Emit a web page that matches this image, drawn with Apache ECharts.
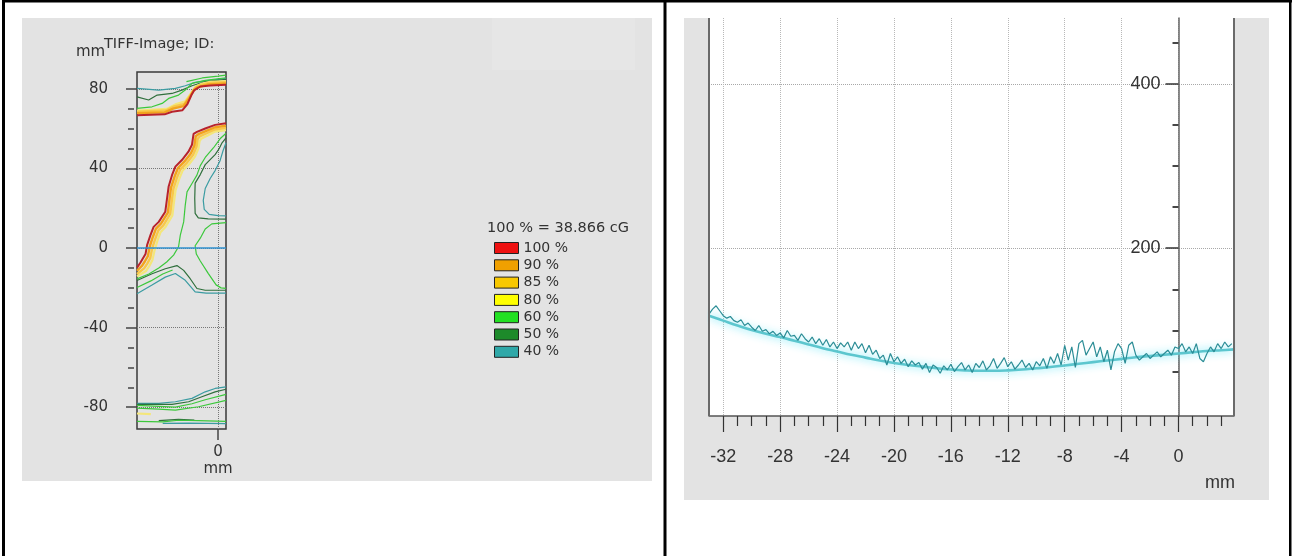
<!DOCTYPE html>
<html>
<head>
<meta charset="utf-8">
<script src="https://cdn.jsdelivr.net/npm/echarts@6/dist/echarts.min.js"></script>
<style>
  html, body { margin: 0; padding: 0; background: #ffffff; }
  #chart { width: 1305px; height: 556px; }
</style>
</head>
<body>
<div id="chart"></div>
<script>
// ---------- Isodose levels (left panel) ----------
const levelNames = ['100 %', '90 %', '85 %', '80 %', '60 %', '50 %', '40 %'];
const levelFill  = ['#ee1111', '#f0a000', '#f8c800', '#ffff00', '#22e022', '#1d8a2a', '#2fa8a8'];
const levelLine  = ['#b8232c', '#f2a31e', '#f8c84a', '#f4e67a', '#3cc83c', '#2f6f3c', '#3b9ca2'];
const levelWidth = [2.0, 2.4, 2.4, 2.2, 1.2, 1.2, 1.2];

// contour polylines, [x mm, y mm]
const iso100 = [
  [[-41,66.9],[-27,67.3],[-23.3,68.6],[-18,69.4],[-15.5,72.5],[-13.5,77],[-12,79.5],[-9,81.3],[-4,81.8],[4,82.2]],
  [[4,62.8],[-1.5,62],[-6.5,60.2],[-10.7,58.5],[-12.4,57.5],[-13.2,52],[-15,48.5],[-18.3,44.3],[-21.6,41],[-23.3,36.7],[-25,31],[-25.8,25],[-26.7,18.3],[-30,13.2],[-32.6,10.7],[-34.2,6.5],[-35.9,1.5],[-36.7,-3],[-38.2,-5.5],[-39.4,-7.5],[-41,-9.8]]
];
const iso90 = [
  [[-41,67.9],[-27,68.3],[-22.8,70.2],[-17.5,71.4],[-14.6,75.3],[-12.4,79.3],[-10.5,80.9],[-5,82.3],[4,82.8]],
  [[4,61.6],[-1.5,60.8],[-6,59],[-10,57.3],[-11.3,56.3],[-12,51.5],[-13.8,47.6],[-17,43.6],[-20.3,40.3],[-22,36],[-23.8,30.4],[-24.6,24.4],[-25.4,17.8],[-28.8,12.4],[-31.4,9.8],[-33,5.6],[-34.6,0.6],[-35.5,-4],[-37,-6.6],[-38.4,-8.8],[-41,-11.4]]
];
const iso85 = [
  [[-41,68.6],[-26.5,69.2],[-22.2,71.3],[-17,72.6],[-14,76.8],[-11.8,80.4],[-9.5,81.9],[-4.5,83.1],[4,83.5]],
  [[4,60.5],[-1.5,59.7],[-5.5,57.9],[-9.3,56.2],[-10.3,55],[-10.9,51],[-12.7,46.8],[-15.8,42.9],[-19.1,39.6],[-20.8,35.4],[-22.6,29.8],[-23.4,23.8],[-24.2,17.2],[-27.6,11.6],[-30.2,8.9],[-31.8,4.6],[-33.4,-0.4],[-34.3,-5],[-35.8,-7.8],[-37.4,-10.2],[-41,-13]]
];
const iso80 = [
  [[-41,69.2],[-26,70],[-21.6,72.3],[-16.6,73.9],[-13.6,78.1],[-11.3,81.2],[-8.5,82.6],[-4,83.6],[4,84]],
  [[4,59.4],[-1.5,58.6],[-5,56.8],[-8.6,55],[-9.4,53.6],[-9.9,50.2],[-11.7,46],[-14.7,42.2],[-18,38.9],[-19.7,34.7],[-21.5,29.1],[-22.3,23.1],[-23.1,16.5],[-26.5,10.8],[-29.1,8],[-30.7,3.6],[-32.2,-1.4],[-33.2,-6],[-34.7,-8.9],[-36.4,-11.5],[-41,-14.2]],
  [[-41,-83.2],[-34,-83.5]]
];
const iso60 = [
  [[-41,70.3],[-33.4,71.1],[-28.3,72.8],[-25,75.3],[-20,77],[-16.6,79.5],[-13.2,82.9],[-6.5,84.4],[4,85.7]],
  [[-16,83.8],[-8,85.6],[0,86.5],[4,87]],
  [[4,57.8],[1,55],[-2.3,50.5],[-6.5,45.6],[-9,41.5],[-10.7,36.7],[-13.2,32.5],[-15.7,28.3],[-16.6,21.6],[-17.4,13.2],[-19.1,6.5],[-20,0.7],[-22.5,-3.5],[-26,-7],[-30,-10],[-35,-13],[-41,-15.5]],
  [[4,12.8],[-3.2,12.2],[-6.5,9.6],[-9,5],[-11.6,1.2],[-11,-3],[-9,-6.5],[-5,-12.7],[-1,-18.5],[1.5,-20],[4,-20.3]],
  [[-41,-19.8],[-34,-16.5],[-28,-13],[-23,-11]],
  [[-41,-79.1],[-30,-79.6],[-21.6,-80],[-13.2,-78.3],[-6.5,-76.3],[4,-73.6]],
  [[-41,-80.5],[-30,-81],[-21.6,-81.5],[-9.9,-79.8],[4,-76.6]],
  [[-41,-87.2],[-28,-87.4],[-20,-86.6],[-10,-86.8],[4,-87.2]]
];
const iso50 = [
  [[-41,76.1],[-35.1,74.5],[-30.8,77],[-23.3,77.8],[-18.3,79.5],[-13.2,81.7],[-6.5,83.8],[4,84.9]],
  [[4,55.5],[2,53],[0.5,50],[-1.5,47],[-6.5,42],[-9,37],[-11.6,32.7],[-11.8,25],[-11.6,17.5],[-10,15.2],[-5,14.7],[4,14.6]],
  [[-41,-16.3],[-33.4,-12.9],[-26.7,-10.4],[-20.8,-8.8],[-17.4,-11.2],[-14.1,-15.4],[-10.7,-20.3],[-6.5,-21.2],[4,-21.2]],
  [[-41,-78.6],[-23.3,-78.6],[-14.9,-77.3],[-8.2,-74.8],[-1.5,-72.3],[4,-71]],
  [[-30,-86.8],[-20,-86.2],[-12,-86.5]]
];
const iso40 = [
  [[-41,80.4],[-30,79.5],[-21.6,80.4],[-16.6,81.7],[-11.6,83.4],[-3.2,84.5],[4,85.4]],
  [[4,53],[2.5,49],[1,44],[-1.5,39],[-4,35],[-6.5,30],[-7.5,24],[-7,19.5],[-4.5,17],[0,16.3],[4,16.2]],
  [[-41,-23],[-33.4,-18.6],[-26.7,-14.6],[-21.6,-12.8],[-16.6,-16.2],[-11.6,-22],[-6,-22.6],[4,-22.6]],
  [[-41,-78.1],[-30,-78.1],[-21.6,-77.3],[-13.2,-75.6],[-6.5,-72.3],[-1.5,-70.6],[4,-69.8]],
  [[-28,-88.2],[-15,-88],[4,-88.3]]
];

// left panel tick values (mm)
const isoYMajor = [-80, -40, 0, 40, 80];
const isoYMinor = [-70, -60, -50, -30, -20, -10, 10, 20, 30, 50, 60, 70];
const isoXMajor = [0];

// ---------- Dose profile (right panel) ----------
const profileStartMm = -33;
const profileStepMm = 0.25;
const profileDose = [
  120,126,130,124, 118,115,117,112, 110,113,106,109, 104,100,106,99,
  101,96,99,94, 97,91,100,93, 94,88,96,90, 86,92,84,90,
  82,89,80,86, 78,85,80,86, 76,86,78,84, 73,82,71,76,
  66,70,58,72, 62,68,60,65, 56,63,58,61, 53,60,49,58,
  55,48,57,52, 59,50,56,61, 52,58,49,60, 55,63,52,57,
  66,54,60,67, 56,62,53,58, 64,55,60,52, 62,57,66,54,
  68,60,72,58, 82,64,80,55, 84,88,70,78, 86,68,80,62,
  76,52,74,84, 78,60,82,86, 70,64,68,72, 66,70,74,68,
  72,76,70,80, 78,84,74,80, 72,84,66,62, 72,80,74,84,
  78,86,80,84
];
const fitMm   = [-33,-32,-31,-30,-29,-28,-27,-26,-25,-24,-23,-22,-21,-20,-19,-18,-17,-16,-15,-14,-13,-12,-11,-10,-9,-8,-7,-6,-5,-4,-3,-2,-1,0,1,2,3,3.9];
const fitDose = [118,112,106,100.5,96,92,87.5,83,78.5,74.5,70.5,67,63.5,60.5,58,56,54,52.5,51.5,51,51,51.5,52.5,54,55.5,57.5,59.5,61.5,63.5,65.5,67.5,69,70.5,72,73.5,75,76,77];

// right panel tick values
const profXMajor = [-32, -28, -24, -20, -16, -12, -8, -4, 0];
const profXMinor = [-31,-30,-29,-27,-26,-25,-23,-22,-21,-19,-18,-17,-15,-14,-13,-11,-10,-9,-7,-6,-5,-3,-2,-1,1,2,3];
const profYMajor = [200, 400];
const profYMinor = [50, 100, 150, 250, 300, 350, 450];

// ---------- styling ----------
const wideFont = 'DejaVu Sans, Verdana, sans-serif';
const narrowFont = "'Liberation Sans', Arial, sans-serif";
const panelGray = '#e3e3e3';
// the dose axis sits at x = 0 mm: distance from the profile grid's left edge
const profGridLeft = 709, profGridWidth = 525, profXMin = -33, profXMax = 3.9;
const doseAxisOffset = -profGridWidth * (0 - profXMin) / (profXMax - profXMin);

function isoSeries(levelIdx, lines) {
  return lines.map(pts => ({
    type: 'line',
    name: levelNames[levelIdx],
    xAxisIndex: 0, yAxisIndex: 0,
    data: pts,
    symbol: 'none', showSymbol: false,
    silent: true, animation: false,
    itemStyle: { color: levelFill[levelIdx] },
    lineStyle: { color: levelLine[levelIdx], width: levelWidth[levelIdx] }
  }));
}

const series = [].concat(
  isoSeries(6, iso40),
  isoSeries(5, iso50),
  isoSeries(4, iso60),
  isoSeries(3, iso80),
  isoSeries(2, iso85),
  isoSeries(1, iso90),
  isoSeries(0, iso100)
);

// blue reference line at y = 0 in the isodose view
series.push({
  type: 'line', xAxisIndex: 0, yAxisIndex: 0, data: [], silent: true, animation: false,
  markLine: {
    silent: true, symbol: 'none', animation: false,
    label: { show: false },
    lineStyle: { color: '#2f90cf', type: 'solid', width: 1.6 },
    data: [{ yAxis: 0 }]
  }
});

// fitted profile with glow
series.push({
  type: 'line', xAxisIndex: 1, yAxisIndex: 2,
  data: fitMm.map((x, i) => [x, fitDose[i]]),
  smooth: 0.4, symbol: 'none', silent: true, animation: false,
  lineStyle: { color: '#5cc6ce', width: 2.6, shadowColor: 'rgba(70,225,245,0.9)', shadowBlur: 9 },
  z: 3
});
// measured profile
series.push({
  type: 'line', xAxisIndex: 1, yAxisIndex: 2,
  data: profileDose.map((v, i) => [profileStartMm + i * profileStepMm, v]),
  symbol: 'none', silent: true, animation: false,
  lineStyle: { color: '#2b8d96', width: 1.2 },
  z: 4
});

const narrowLabel = { fontSize: 18, color: '#333', fontFamily: narrowFont };

const option = {
  backgroundColor: '#ffffff',
  animation: false,
  textStyle: { fontFamily: wideFont },
  graphic: [
    // panel backgrounds
    { type: 'rect', z: -10, shape: { x: 22, y: 18, width: 630, height: 463 }, style: { fill: panelGray } },
    { type: 'rect', z: -9, shape: { x: 492, y: 18, width: 143, height: 52 }, style: { fill: '#e6e6e6' } },
    { type: 'rect', z: -10, shape: { x: 684, y: 18, width: 585, height: 482 }, style: { fill: panelGray } },
    { type: 'rect', z: -9, shape: { x: 709, y: 18, width: 525, height: 398 }, style: { fill: '#ffffff' } },
    // profile frame sides
    { type: 'line', z: 50, shape: { x1: 709, y1: 18, x2: 709, y2: 416 }, style: { stroke: '#6a6a6a', lineWidth: 2 } },
    { type: 'line', z: 50, shape: { x1: 1234, y1: 18, x2: 1234, y2: 416 }, style: { stroke: '#6a6a6a', lineWidth: 2 } },
    // table borders
    { type: 'rect', z: 100, shape: { x: 2, y: 0, width: 1290, height: 2.5 }, style: { fill: '#000' } },
    { type: 'rect', z: 100, shape: { x: 2, y: 0, width: 3, height: 556 }, style: { fill: '#000' } },
    { type: 'rect', z: 100, shape: { x: 663.5, y: 0, width: 3, height: 556 }, style: { fill: '#000' } },
    { type: 'rect', z: 100, shape: { x: 1289, y: 0, width: 2.5, height: 556 }, style: { fill: '#000' } },
    // texts
    { type: 'text', z: 60, style: { x: 76, y: 52, text: 'mm', fill: '#333', font: '15px DejaVu Sans', verticalAlign: 'middle' } },
    { type: 'text', z: 60, style: { x: 104, y: 44, text: 'TIFF-Image; ID:', fill: '#333', font: '14.5px DejaVu Sans', verticalAlign: 'middle' } },
    { type: 'text', z: 60, style: { x: 218, y: 469, text: 'mm', fill: '#333', font: '15px DejaVu Sans', align: 'center', verticalAlign: 'middle' } },
    { type: 'text', z: 60, style: { x: 487, y: 228, text: '100 % = 38.866 cG', fill: '#333', font: '14.5px DejaVu Sans', verticalAlign: 'middle' } },
    { type: 'text', z: 60, style: { x: 1220, y: 483, text: 'mm', fill: '#333', font: "18px 'Liberation Sans', Arial, sans-serif", align: 'center', verticalAlign: 'middle' } }
  ],
  legend: {
    data: levelNames,
    orient: 'vertical',
    left: 489, top: 236,
    icon: 'rect',
    itemWidth: 24, itemHeight: 11, itemGap: 3.3,
    selectedMode: false,
    itemStyle: { borderColor: '#222', borderWidth: 1 },
    textStyle: { fontSize: 14, color: '#333', fontFamily: wideFont }
  },
  grid: [
    { left: 137, top: 72, width: 89, height: 357, show: true, borderColor: '#3a3a3a', borderWidth: 1.5, backgroundColor: 'transparent', containLabel: false },
    { left: profGridLeft, top: 18, width: profGridWidth, height: 398, show: false, containLabel: false }
  ],
  xAxis: [
    {
      gridIndex: 0, type: 'value', min: -41, max: 4, position: 'bottom',
      axisLine: { show: false, onZero: false },
      axisTick: { show: true, customValues: isoXMajor, length: 11, lineStyle: { color: '#444', width: 1.5 } },
      axisLabel: { show: true, customValues: isoXMajor, margin: 16, fontSize: 15, color: '#333', fontFamily: wideFont },
      splitLine: { show: true, lineStyle: { color: '#777', type: 'dotted', width: 1 } }
    },
    {
      gridIndex: 1, type: 'value', min: profXMin, max: profXMax, position: 'bottom',
      axisLine: { show: true, onZero: false, lineStyle: { color: '#555', width: 1.5 } },
      axisTick: { show: true, customValues: profXMajor, length: 16, lineStyle: { color: '#333', width: 1.2 } },
      axisLabel: Object.assign({ show: true, customValues: profXMajor, margin: 32 }, narrowLabel),
      splitLine: { show: true, lineStyle: { color: '#b8b8b8', type: 'dotted', width: 1 } }
    },
    {
      gridIndex: 1, type: 'value', min: profXMin, max: profXMax, position: 'bottom',
      axisLine: { show: false, onZero: false },
      axisTick: { show: true, customValues: profXMinor, length: 10, lineStyle: { color: '#333', width: 1.2 } },
      axisLabel: { show: false },
      splitLine: { show: false }
    }
  ],
  yAxis: [
    {
      gridIndex: 0, type: 'value', min: -91, max: 88.6, position: 'left',
      axisLine: { show: false, onZero: false },
      axisTick: { show: true, customValues: isoYMajor, length: 11, lineStyle: { color: '#444', width: 1.5 } },
      axisLabel: { show: true, customValues: isoYMajor, margin: 29, fontSize: 15, color: '#333', fontFamily: wideFont },
      splitLine: { show: true, lineStyle: { color: '#777', type: 'dotted', width: 1 } }
    },
    {
      gridIndex: 0, type: 'value', min: -91, max: 88.6, position: 'left', offset: 3,
      axisLine: { show: false, onZero: false },
      axisTick: { show: true, customValues: isoYMinor, length: 6, lineStyle: { color: '#444', width: 1.5 } },
      axisLabel: { show: false },
      splitLine: { show: false }
    },
    {
      gridIndex: 1, type: 'value', min: -4, max: 480, position: 'left', offset: doseAxisOffset,
      axisLine: { show: true, onZero: false, lineStyle: { color: '#666', width: 1.5 } },
      axisTick: { show: true, customValues: profYMajor, length: 13, lineStyle: { color: '#333', width: 1.5 } },
      axisLabel: Object.assign({ show: true, customValues: profYMajor, margin: 18 }, narrowLabel),
      splitLine: { show: true, lineStyle: { color: '#a8a8a8', type: 'dotted', width: 1 } }
    },
    {
      gridIndex: 1, type: 'value', min: -4, max: 480, position: 'left', offset: doseAxisOffset,
      axisLine: { show: false, onZero: false },
      axisTick: { show: true, customValues: profYMinor, length: 6, lineStyle: { color: '#333', width: 1.8 } },
      axisLabel: { show: false },
      splitLine: { show: false }
    }
  ],
  series: series
};

const chart = echarts.init(document.getElementById('chart'), null, { renderer: 'canvas' });
chart.setOption(option);
</script>
</body>
</html>
